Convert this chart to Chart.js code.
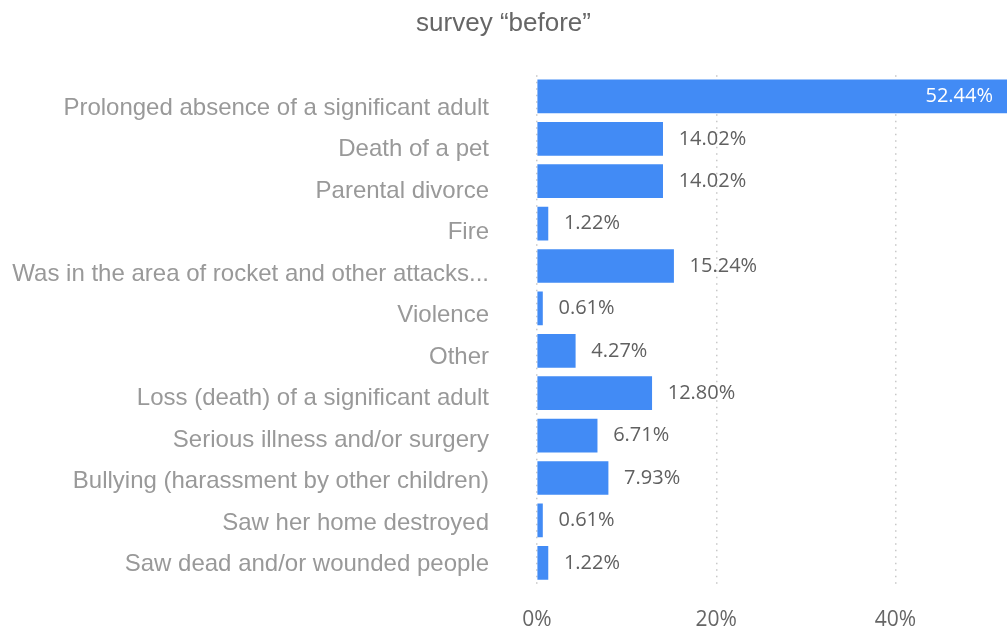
<!DOCTYPE html>
<html>
<head>
<meta charset="utf-8">
<script src="https://cdn.jsdelivr.net/npm/chart.js@4"></script>
<style>
  html, body { margin: 0; padding: 0; background: #fff; }
  #wrap { width: 1007px; height: 630px; }
</style>
</head>
<body>
<div id="wrap"><canvas id="chart" width="1007" height="630"></canvas></div>
<script>
// Chart data
const categories = [
  "Prolonged absence of a significant adult",
  "Death of a pet",
  "Parental divorce",
  "Fire",
  "Was in the area of rocket and other attacks...",
  "Violence",
  "Other",
  "Loss (death) of a significant adult",
  "Serious illness and/or surgery",
  "Bullying (harassment by other children)",
  "Saw her home destroyed",
  "Saw dead and/or wounded people"
];
const percentages = [52.44, 14.02, 14.02, 1.22, 15.24, 0.61, 4.27, 12.80, 6.71, 7.93, 0.61, 1.22];
const xTicks = [0, 20, 40];

// Value labels drawn next to (or inside) each bar
const valueLabels = {
  id: 'valueLabels',
  afterDatasetsDraw(chart) {
    const ctx = chart.ctx;
    const area = chart.chartArea;
    const bars = chart.getDatasetMeta(0).data;
    ctx.save();
    ctx.font = '20px "Open Sans", sans-serif';
    ctx.textBaseline = 'middle';
    bars.forEach((bar, i) => {
      const text = percentages[i].toFixed(2) + '%';
      const w = ctx.measureText(text).width;
      if (bar.x + 16 + w > area.right) {
        ctx.fillStyle = '#ffffff';
        ctx.textAlign = 'right';
        ctx.fillText(text, area.right - 14, bar.y);
      } else {
        ctx.fillStyle = '#606060';
        ctx.textAlign = 'left';
        ctx.fillText(text, bar.x + 16, bar.y);
      }
    });
    ctx.restore();
  }
};

new Chart("chart", {
  type: 'bar',
  data: {
    labels: categories,
    datasets: [{
      data: percentages,
      backgroundColor: "#428BF5",
      borderWidth: 0,
      barThickness: 33
    }]
  },
  options: {
    indexAxis: 'y',
    responsive: false,
    animation: false,
    layout: { padding: 0 },
    plugins: {
      legend: { display: false },
      tooltip: { enabled: false },
      title: {
        display: true,
        text: 'survey \u201cbefore\u201d',
        color: '#666666',
        font: { family: 'Arial, "Liberation Sans", sans-serif', size: 26, weight: 'normal' },
        padding: { top: 8, bottom: 36 }
      }
    },
    scales: {
      x: {
        min: 0,
        max: 52.44,
        afterBuildTicks: (scale) => { scale.ticks = xTicks.map(v => ({ value: v })); },
        afterFit: (scale) => { scale.height = 46; },
        ticks: {
          color: '#666666',
          font: { family: '"Open Sans", sans-serif', size: 21 },
          padding: 23,
          callback: (v) => v + '%'
        },
        grid: {
          color: '#c8c8c8',
          lineWidth: 1.5,
          drawTicks: false
        },
        border: { display: false, dash: [1.5, 5] }
      },
      // category axis that places the bars (labels shown on the axis below)
      y: {
        display: false
      },
      // label axis: the category names sit on a slightly tighter pitch than the bars
      yLabels: {
        type: 'linear',
        position: 'left',
        reverse: true,
        offset: false,
        min: -0.795,
        max: 11.47,
        afterBuildTicks: (scale) => { scale.ticks = categories.map((c, i) => ({ value: i })); },
        afterFit: (scale) => {
          scale.width = 537;
          scale.paddingTop = 0;
          scale.paddingBottom = 0;
        },
        ticks: {
          color: '#999999',
          font: { family: 'Arial, "Liberation Sans", sans-serif', size: 24 },
          padding: 40,
          callback: (v) => categories[v]
        },
        grid: { display: false },
        border: { display: false }
      }
    }
  },
  plugins: [valueLabels]
});
</script>
</body>
</html>
